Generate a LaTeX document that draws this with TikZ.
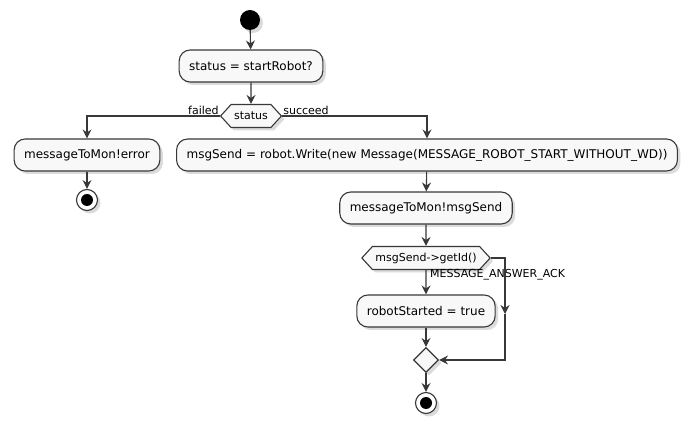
\documentclass[tikz,border=0pt]{standalone}
\usepackage{fontspec}
\setmainfont{DejaVu Sans}
\usetikzlibrary{arrows.meta,shapes.geometric,shapes.symbols,shadows}
\definecolor{boxfill}{HTML}{F8F8F8}
\definecolor{ink}{HTML}{383838}
\definecolor{shade}{HTML}{B8B8B8}
\tikzset{
  act/.style={draw=ink,fill=boxfill,line width=1.1pt,rounded corners=11pt,
              minimum height=32pt,inner xsep=10pt,font=\fontsize{12}{14}\selectfont,
              drop shadow={shadow xshift=3pt,shadow yshift=-3pt,fill=shade}},
  cond/.style={draw=ink,fill=boxfill,line width=1.1pt,signal,signal to=west and east,
               signal pointer angle=95,minimum height=23pt,inner xsep=3pt,
               font=\fontsize{11}{13}\selectfont,
               drop shadow={shadow xshift=3pt,shadow yshift=-3pt,fill=shade}},
  merge/.style={draw=ink,fill=boxfill,line width=1.1pt,diamond,minimum size=25pt,
                inner sep=0pt,
                drop shadow={shadow xshift=3pt,shadow yshift=-3pt,fill=shade}},
  startdot/.style={circle,fill=black,minimum size=20pt,inner sep=0pt,
                   drop shadow={shadow xshift=3pt,shadow yshift=-3pt,fill=shade}},
  stopdot/.style={circle,draw=ink,fill=white,line width=1.1pt,minimum size=21pt,
                  inner sep=0pt,
                  path picture={\fill[black] (path picture bounding box.center) circle (6pt);},
                  drop shadow={shadow xshift=3pt,shadow yshift=-3pt,fill=shade}},
  flow/.style={draw=ink,line width=1.1pt},
  arr/.style={flow,-{Stealth[length=9pt,width=9pt,inset=3pt]}},
  guard/.style={font=\fontsize{11}{13}\selectfont,inner sep=1pt}
}
\begin{document}
\begin{tikzpicture}[x=1pt,y=-1pt]
  \useasboundingbox[fill=white] (0,0) rectangle (694,430);
  % top
  \node[startdot] (start) at (250,20) {};
  \node[act] (ask) at (251,66) {status = startRobot?};
  \node[cond] (st) at (251,116) {status};
  \node[guard,anchor=south east] at (st.west) {failed};
  \node[guard,anchor=south west] at (st.east) {succeed};
  % failed branch
  \node[act] (err) at (87,155) {messageToMon!error};
  \node[stopdot] (stop1) at (87,200) {};
  % succeed branch
  \node[act] (wr) at (427,155) {msgSend = robot.Write(new Message(MESSAGE\_ROBOT\_START\_WITHOUT\_WD))};
  \node[act] (snd) at (426,208) {messageToMon!msgSend};
  \node[cond] (gid) at (426,258) {msgSend->getId()};
  \node[guard,anchor=north west] at (429,268) {MESSAGE\_ANSWER\_ACK};
  \node[act] (ok) at (426,311) {robotStarted = true};
  \node[merge] (mrg) at (426,360) {};
  \node[stopdot] (stop2) at (426,403) {};
  \coordinate (lp) at (505,258);
  \coordinate (lpm) at (505,314);

  \draw[arr] (start) -- (ask);
  \draw[arr] (ask) -- (st);
  \draw[arr] (st.west) -| (err.north);
  \draw[arr] (st.east) -| (wr.north);
  \draw[arr] (err) -- (stop1);
  \draw[arr] (wr) -- (snd);
  \draw[arr] (snd) -- (gid);
  \draw[arr] (gid) -- (ok);
  \draw[arr] (ok) -- (mrg);
  \draw[arr] (gid.east) -- (lp) -- (lpm);
  \draw[arr] (lpm) |- (mrg.east);
  \draw[arr] (mrg) -- (stop2);
\end{tikzpicture}
\end{document}
